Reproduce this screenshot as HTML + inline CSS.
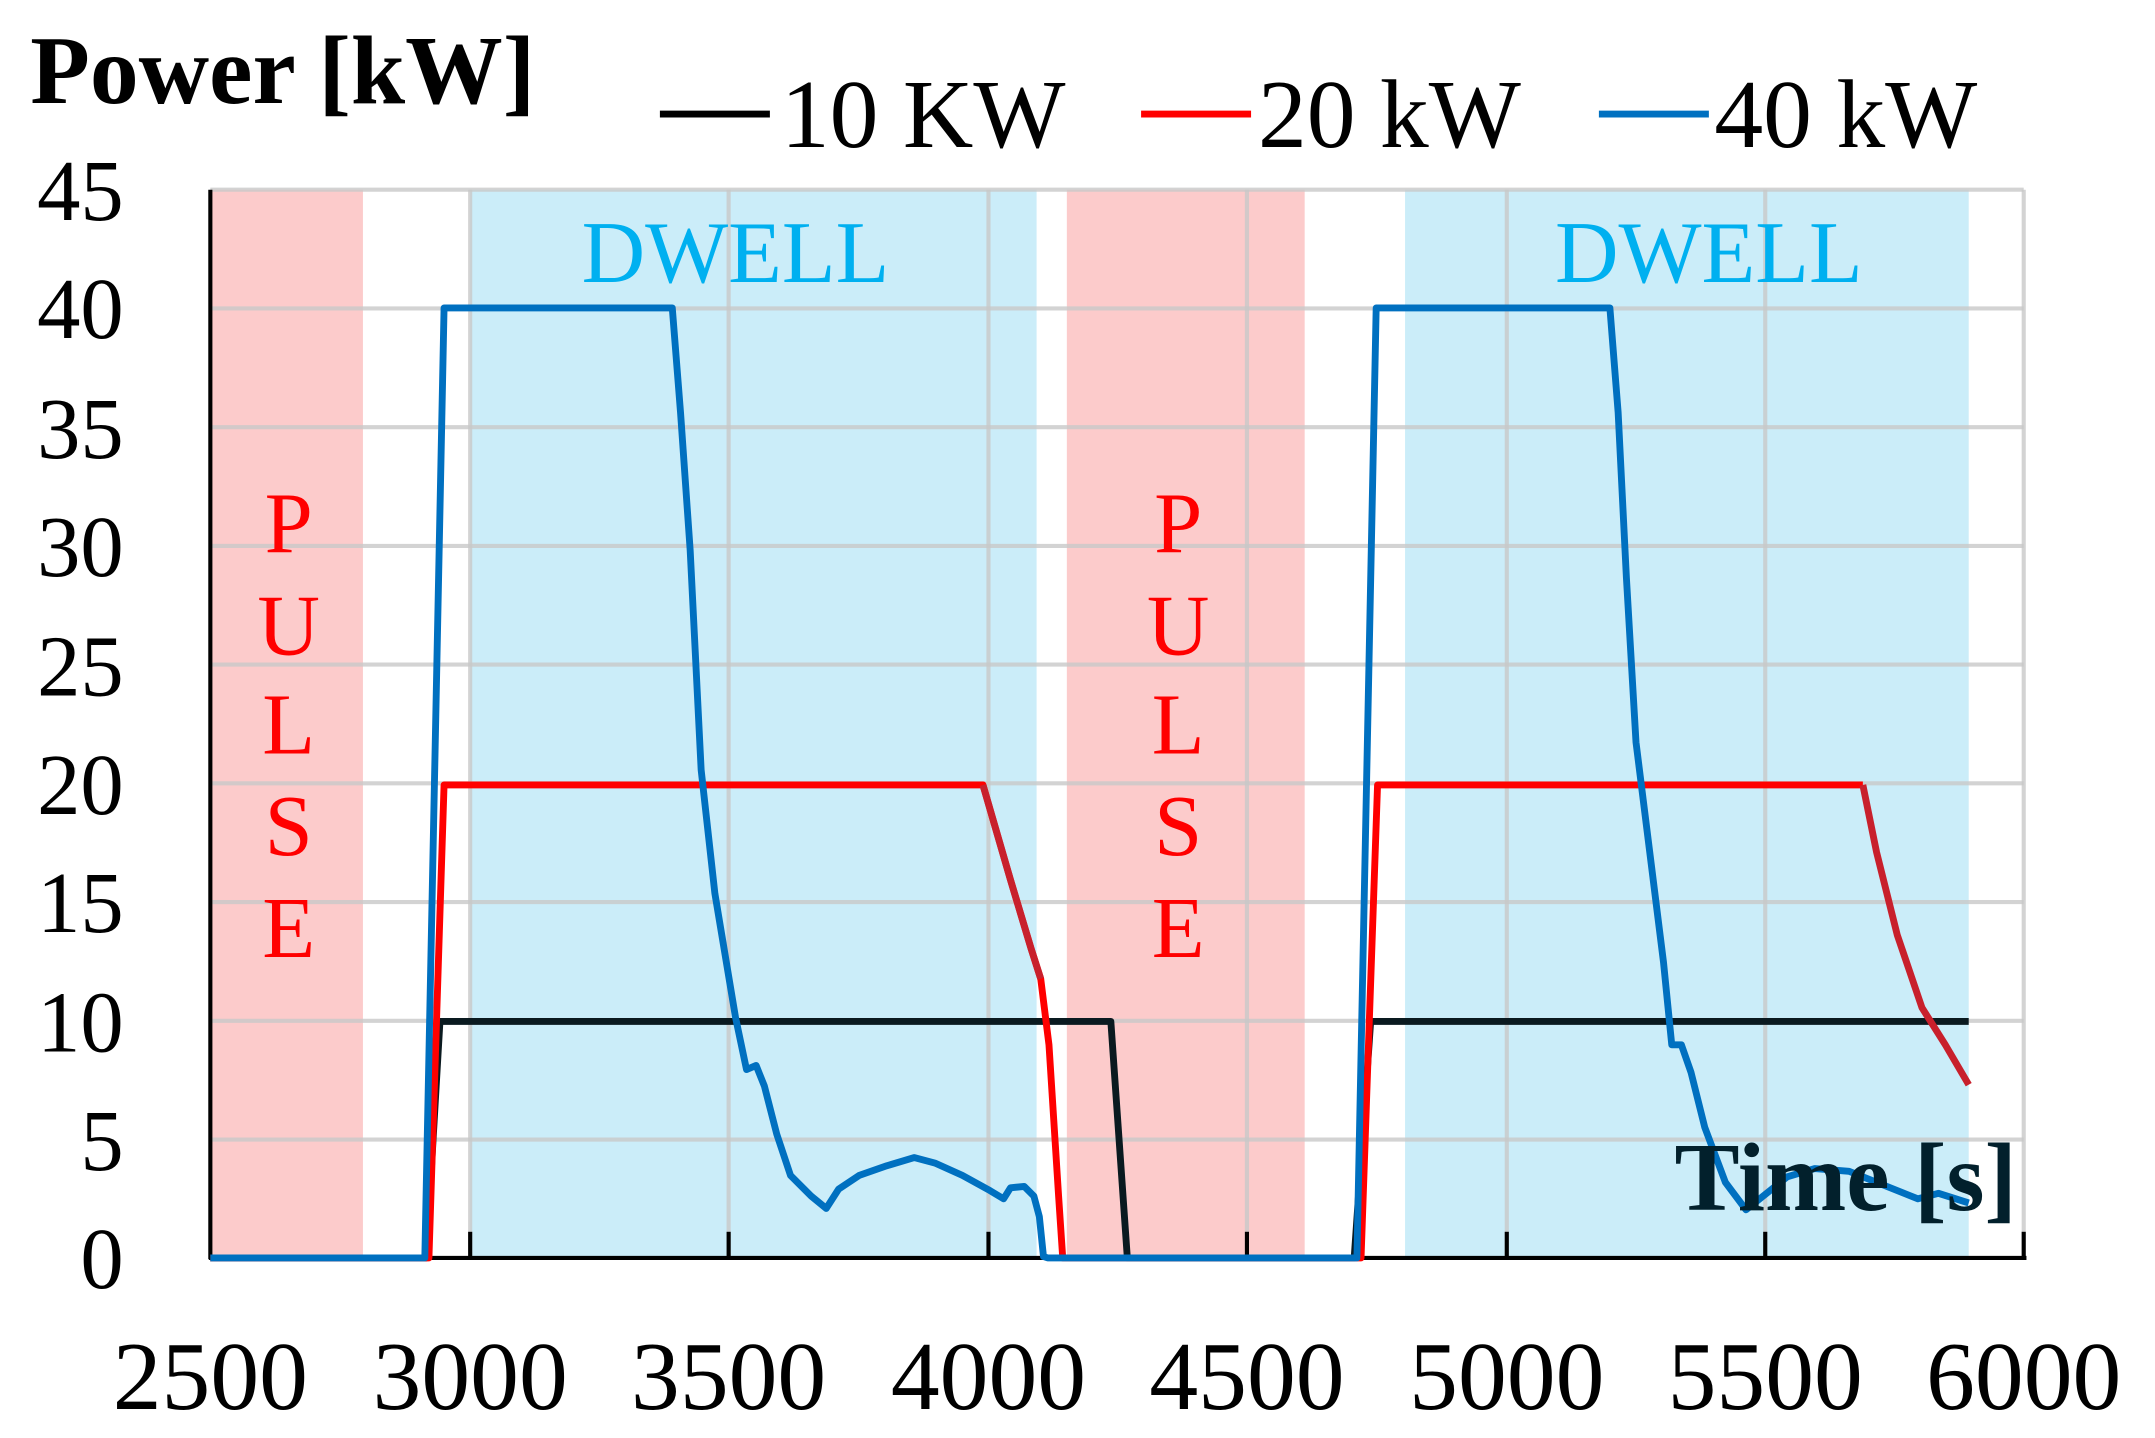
<!DOCTYPE html>
<html><head><meta charset="utf-8"><style>html,body{margin:0;padding:0;background:#fff}svg{display:block}</style></head>
<body>
<svg width="2155" height="1438" viewBox="0 0 1567.5 1046" preserveAspectRatio="none" xmlns="http://www.w3.org/2000/svg" font-family="Liberation Serif, serif">
<rect x="153" y="138" width="111" height="777" fill="#fccbcb"/>
<rect x="342" y="138" width="412" height="777" fill="#cbedf9"/>
<rect x="776" y="138" width="173" height="777" fill="#fccbcb"/>
<rect x="1022" y="138" width="410" height="777" fill="#cbedf9"/>
<g stroke="#c8c8c8" stroke-opacity="0.8" stroke-width="3">
<line x1="153" x2="1472" y1="138" y2="138"/><line x1="153" x2="1472" y1="224.4" y2="224.4"/><line x1="153" x2="1472" y1="310.7" y2="310.7"/><line x1="153" x2="1472" y1="397.1" y2="397.1"/><line x1="153" x2="1472" y1="483.4" y2="483.4"/><line x1="153" x2="1472" y1="569.8" y2="569.8"/><line x1="153" x2="1472" y1="656.2" y2="656.2"/><line x1="153" x2="1472" y1="742.5" y2="742.5"/><line x1="153" x2="1472" y1="828.9" y2="828.9"/>
<line x1="342" x2="342" y1="138" y2="915"/><line x1="530" x2="530" y1="138" y2="915"/><line x1="719" x2="719" y1="138" y2="915"/><line x1="907" x2="907" y1="138" y2="915"/><line x1="1096" x2="1096" y1="138" y2="915"/><line x1="1284" x2="1284" y1="138" y2="915"/><line x1="1472" x2="1472" y1="138" y2="915"/>
</g>
<g stroke="#000" stroke-width="3">
<line x1="153" x2="153" y1="138" y2="916"/><line x1="152" x2="1474" y1="915" y2="915"/>
<line x1="342" x2="342" y1="896" y2="915"/><line x1="530" x2="530" y1="896" y2="915"/><line x1="719" x2="719" y1="896" y2="915"/><line x1="907" x2="907" y1="896" y2="915"/><line x1="1096" x2="1096" y1="896" y2="915"/><line x1="1284" x2="1284" y1="896" y2="915"/><line x1="1472" x2="1472" y1="896" y2="915"/>
</g>
<g fill="#00b0f0" font-size="64" text-anchor="middle"><text x="535" y="205">DWELL</text><text x="1243" y="205">DWELL</text></g>
<g fill="#ff0000" font-size="63" text-anchor="middle">
<text x="210" y="402">P</text><text x="210" y="476">U</text><text x="210" y="548">L</text><text x="210" y="622">S</text><text x="210" y="696">E</text>
<text x="857" y="402">P</text><text x="857" y="476">U</text><text x="857" y="548">L</text><text x="857" y="622">S</text><text x="857" y="696">E</text>
</g>
<g fill="none" stroke-width="5" stroke-linejoin="round">
<polyline stroke="#0a1a20" points="153,915 310,915 320,743 808,743 820,915 985,915 997,743 1432,743"/>
<polyline stroke="#ff0000" points="153,915 312,915 323,571 715,571 735,640 750,690 757,712 763,760 770,870 773,915 990,915 1002,571 1355,571"/>
<polyline stroke="#c8202c" points="715,571 735,640 750,690 757,712"/>
<polyline stroke="#c8202c" points="1355,571 1365,620 1380,680 1398,733 1415,760 1432,789"/>
<polyline stroke="#0070c0" points="153,915 309,915 323,224 489,224 495,300 502,400 510,560 520,650 535,740 543,778 550,775 556,790 565,825 575,855 590,870 601,879 610,865 625,855 645,848 665,842 680,846 700,855 720,866 730,872 735,864 745,863 752,870 756,885 759,914 762,915 987,915 1001,224 1171,224 1177,300 1183,420 1190,540 1200,620 1210,700 1216,760 1223,760 1230,780 1240,820 1255,860 1270,880 1285,868 1300,856 1320,850 1345,852 1370,862 1395,872 1410,868 1432,875"/>
</g>
<text x="22" y="75" font-size="71" font-weight="bold" fill="#000">Power [kW]</text>
<text x="1218" y="880" font-size="71" font-weight="bold" fill="#02202c">Time [s]</text>
<g stroke-width="5"><line x1="480" x2="560" y1="83" y2="83" stroke="#000"/><line x1="830" x2="910" y1="83" y2="83" stroke="#ff0000"/><line x1="1163" x2="1243" y1="83" y2="83" stroke="#0070c0"/></g>
<g font-size="71" fill="#000"><text x="568" y="107">10 KW</text><text x="915" y="107">20 kW</text><text x="1247" y="107">40 kW</text></g>
<g font-size="63" fill="#000" text-anchor="end">
<text x="90" y="160">45</text><text x="90" y="246">40</text><text x="90" y="333">35</text><text x="90" y="419">30</text><text x="90" y="506">25</text><text x="90" y="592">20</text><text x="90" y="678">15</text><text x="90" y="765">10</text><text x="90" y="851">5</text><text x="90" y="937">0</text>
</g>
<g font-size="71" fill="#000" text-anchor="middle">
<text x="153" y="1025">2500</text><text x="342" y="1025">3000</text><text x="530" y="1025">3500</text><text x="719" y="1025">4000</text><text x="907" y="1025">4500</text><text x="1096" y="1025">5000</text><text x="1284" y="1025">5500</text><text x="1472" y="1025">6000</text>
</g>
</svg>
</body></html>
